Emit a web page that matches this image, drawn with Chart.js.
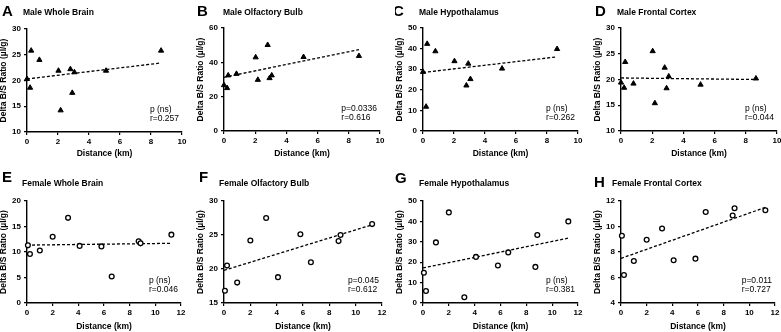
<!DOCTYPE html>
<html lang="en">
<head>
  <meta charset="UTF-8">
  <title>Delta B/S Ratio vs Distance</title>
  <style>
    html, body { margin: 0; padding: 0; background: #fff; }
    body { width: 781px; height: 332px; position: relative; overflow: hidden; }
    canvas { position: absolute; }
  </style>
</head>
<body>
  <canvas id="cA" width="200" height="166"></canvas>
  <canvas id="cB" width="200" height="166"></canvas>
  <canvas id="cC" width="200" height="166"></canvas>
  <canvas id="cD" width="200" height="166"></canvas>
  <canvas id="cE" width="200" height="166"></canvas>
  <canvas id="cF" width="200" height="166"></canvas>
  <canvas id="cG" width="200" height="166"></canvas>
  <canvas id="cH" width="200" height="166"></canvas>

  <script src="https://cdn.jsdelivr.net/npm/chart.js"></script>
  <script>
    // data
    const maleDistance = [0, 0.2, 0.27, 0.8, 2.03, 2.17, 2.8, 2.92, 3.06, 5.1, 8.65];
    const maleWholeBrain = [20.3, 18.6, 25.8, 24.0, 21.9, 14.2, 22.2, 17.6, 21.6, 21.9, 25.8];
    const maleOlfactoryBulb = [26.7, 25.0, 32.4, 33.3, 42.9, 29.8, 50.1, 30.8, 32.4, 43.1, 43.7];
    const maleHypothalamus = [28.7, 11.8, 42.3, 38.7, 33.9, null, 22.1, 32.7, 25.2, 30.3, 39.8];
    const maleFrontalCortex = [19.4, 18.4, 23.4, 19.2, 25.5, 15.4, 22.3, 18.3, 20.6, 19.0, 20.2];

    const femaleDistance = [0.07, 0.23, 1.0, 2.0, 3.2, 4.1, 5.8, 6.6, 8.7, 8.85, 11.25];
    const femaleWholeBrain = [11.3, 9.6, 10.3, 13.0, 16.7, 11.2, 11.1, 5.2, 12.1, 11.7, 13.4];
    const femaleOlfactoryBulb = [16.8, 20.5, 18.0, 24.2, 27.5, 18.8, 25.1, 21.0, 24.1, 25.0, 26.6];
    const femaleHypothalamus = [14.8, 5.9, 29.7, 44.4, 2.8, 22.6, 18.4, 24.8, 17.7, 33.3, 40.0];
    const femaleFrontalCortex = [9.27, 6.2, 7.3, 8.96, 9.84, 7.35, 7.48, 11.14, 10.86, 11.43, 11.27];

    // regression lines (ends)
    const maleFitX = [0, 8.65];
    const fitMaleWholeBrain = [20.3, 23.4];
    const fitMaleOlfactoryBulb = [31.3, 47.4];
    const fitMaleHypothalamus = [28.4, 36.0];
    const fitMaleFrontalCortex = [20.3, 20.0];
    const femaleFitX = [0, 11.25];
    const fitFemaleWholeBrain = [11.35, 11.7];
    const fitFemaleOlfactoryBulb = [19.8, 26.5];
    const fitFemaleHypothalamus = [17.2, 31.8];
    const fitFemaleFrontalCortex = [7.5, 11.5];

    // axis ticks
    const xTicksMale = [0, 2, 4, 6, 8, 10];
    const xTicksFemale = [0, 2, 4, 6, 8, 10, 12];
    const yTicksA = [10, 15, 20, 25, 30];
    const yTicksB = [0, 20, 40, 60];
    const yTicksC = [0, 10, 20, 30, 40, 50];
    const yTicksD = [10, 15, 20, 25, 30];
    const yTicksE = [0, 5, 10, 15, 20];
    const yTicksF = [15, 20, 25, 30];
    const yTicksG = [0, 10, 20, 30, 40, 50];
    const yTicksH = [4, 6, 8, 10, 12];

    const statsA = ['p (ns)', 'r=0.257'];
    const statsB = ['p=0.0336', 'r=0.616'];
    const statsC = ['p (ns)', 'r=0.262'];
    const statsD = ['p (ns)', 'r=0.044'];
    const statsE = ['p (ns)', 'r=0.046'];
    const statsF = ['p=0.045', 'r=0.612'];
    const statsG = ['p (ns)', 'r=0.381'];
    const statsH = ['p=0.011', 'r=0.727'];

    const FONT = '"Liberation Sans", Arial, sans-serif';

    // letter, title and r/p text drawn on top
    const panelText = {
      id: 'panelText',
      afterDraw(chart, args, o) {
        const ctx = chart.ctx;
        const a = chart.chartArea;
        ctx.save();
        ctx.fillStyle = '#000';
        ctx.textAlign = 'left';
        ctx.textBaseline = 'alphabetic';
        ctx.font = 'bold 15px ' + FONT;
        ctx.fillText(o.letter, o.letterX, o.letterY);
        ctx.textBaseline = 'middle';
        ctx.font = 'bold 8.5px ' + FONT;
        ctx.fillText(o.title, o.titleX, o.titleY);
        ctx.font = '8.5px ' + FONT;
        const w = Math.max(...o.stats.map(s => ctx.measureText(s).width));
        o.stats.forEach((s, i) => ctx.fillText(s, a.right - 3 - w, a.bottom - 22 + i * 9));
        ctx.restore();
      }
    };

    function makePanel(p) {
      const canvas = document.getElementById(p.id);
      const left = p.plot[0] - 28;
      canvas.style.left = left + 'px';
      canvas.style.top = p.cellTop + 'px';

      const pts = p.xs.map((x, i) => ({ x: x, y: p.ys[i] })).filter(d => d.y !== null);
      const fit = p.fitX.map((x, i) => ({ x: x, y: p.fitY[i] }));
      const xt = p.xTicks, yt = p.yTicks;

      new Chart(canvas, {
        type: 'scatter',
        data: {
          datasets: [
            {
              data: pts,
              pointStyle: p.female ? 'circle' : 'triangle',
              pointRadius: p.female ? 2.4 : 3,
              pointBackgroundColor: p.female ? '#fff' : '#000',
              pointBorderColor: '#000',
              pointBorderWidth: p.female ? 1.3 : 1,
              clip: false
            },
            {
              data: fit,
              showLine: true,
              borderColor: '#000',
              borderWidth: 1.3,
              borderDash: [3, 2],
              pointRadius: 0,
              clip: false
            }
          ]
        },
        plugins: [panelText],
        options: {
          responsive: false,
          animation: false,
          devicePixelRatio: 1,
          layout: {
            padding: {
              left: 0,
              top: p.plot[1] - p.cellTop,
              right: 200 - 28 - (p.plot[2] - p.plot[0]),
              bottom: 0
            }
          },
          plugins: {
            legend: { display: false },
            tooltip: { enabled: false },
            panelText: {
              letter: p.letter, letterX: p.letterPos[0] - left, letterY: p.letterPos[1] - p.cellTop,
              title: p.title, titleX: p.titlePos[0] - left, titleY: p.titlePos[1] - p.cellTop,
              stats: p.stats
            }
          },
          scales: {
            x: {
              type: 'linear',
              min: xt[0], max: xt[xt.length - 1],
              ticks: { stepSize: xt[1] - xt[0], color: '#000', padding: 2, font: { family: FONT, size: 8, weight: 'bold' } },
              grid: { drawOnChartArea: false, drawTicks: true, tickLength: 3, color: '#000', lineWidth: 1.2 },
              border: { display: true, color: '#000', width: 1.4 },
              title: { display: true, text: 'Distance (km)', color: '#000', padding: { top: 0, bottom: p.xTitlePad }, font: { family: FONT, size: 8.5, weight: 'bold' } },
              afterFit(s) { s.height = 166 - (p.plot[3] - p.cellTop); }
            },
            y: {
              type: 'linear',
              min: yt[0], max: yt[yt.length - 1],
              ticks: { stepSize: yt[1] - yt[0], color: '#000', padding: 3, font: { family: FONT, size: 8, weight: 'bold' } },
              grid: { drawOnChartArea: false, drawTicks: true, tickLength: 3, color: '#000', lineWidth: 1.2 },
              border: { display: true, color: '#000', width: 1.4 },
              title: { display: true, text: 'Delta B/S Ratio (µl/g)', color: '#000', padding: { top: 0, bottom: 0 }, font: { family: FONT, size: 8.5, weight: 'bold' } },
              afterFit(s) { s.width = 28; }
            }
          }
        }
      });
    }

    const panels = [
      { id: 'cA', cellTop: 0, plot: [27, 29, 182, 132], letter: 'A', letterPos: [2, 16], title: 'Male Whole Brain', titlePos: [23, 13],
        xs: maleDistance, ys: maleWholeBrain, fitX: maleFitX, fitY: fitMaleWholeBrain, xTicks: xTicksMale, yTicks: yTicksA, stats: statsA, female: false, xTitlePad: 7 },
      { id: 'cB', cellTop: 0, plot: [224, 28, 380, 131], letter: 'B', letterPos: [197, 16], title: 'Male Olfactory Bulb', titlePos: [223, 13],
        xs: maleDistance, ys: maleOlfactoryBulb, fitX: maleFitX, fitY: fitMaleOlfactoryBulb, xTicks: xTicksMale, yTicks: yTicksB, stats: statsB, female: false, xTitlePad: 7 },
      { id: 'cC', cellTop: 0, plot: [423, 28, 578, 131], letter: 'C', letterPos: [393, 16], title: 'Male Hypothalamus', titlePos: [419, 13],
        xs: maleDistance, ys: maleHypothalamus, fitX: maleFitX, fitY: fitMaleHypothalamus, xTicks: xTicksMale, yTicks: yTicksC, stats: statsC, female: false, xTitlePad: 7 },
      { id: 'cD', cellTop: 0, plot: [621, 28, 777, 131], letter: 'D', letterPos: [595, 16], title: 'Male Frontal Cortex', titlePos: [617, 13],
        xs: maleDistance, ys: maleFrontalCortex, fitX: maleFitX, fitY: fitMaleFrontalCortex, xTicks: xTicksMale, yTicks: yTicksD, stats: statsD, female: false, xTitlePad: 7 },
      { id: 'cE', cellTop: 166, plot: [27, 201, 181, 303], letter: 'E', letterPos: [2, 182], title: 'Female Whole Brain', titlePos: [22, 184],
        xs: femaleDistance, ys: femaleWholeBrain, fitX: femaleFitX, fitY: fitFemaleWholeBrain, xTicks: xTicksFemale, yTicks: yTicksE, stats: statsE, female: true, xTitlePad: 0 },
      { id: 'cF', cellTop: 166, plot: [224, 201, 382, 303], letter: 'F', letterPos: [199, 182], title: 'Female Olfactory Bulb', titlePos: [219, 184],
        xs: femaleDistance, ys: femaleOlfactoryBulb, fitX: femaleFitX, fitY: fitFemaleOlfactoryBulb, xTicks: xTicksFemale, yTicks: yTicksF, stats: statsF, female: true, xTitlePad: 0 },
      { id: 'cG', cellTop: 166, plot: [423, 201, 578, 303], letter: 'G', letterPos: [395, 183], title: 'Female Hypothalamus', titlePos: [419, 184],
        xs: femaleDistance, ys: femaleHypothalamus, fitX: femaleFitX, fitY: fitFemaleHypothalamus, xTicks: xTicksFemale, yTicks: yTicksG, stats: statsG, female: true, xTitlePad: 0 },
      { id: 'cH', cellTop: 166, plot: [621, 201, 775, 303], letter: 'H', letterPos: [594, 187], title: 'Female Frontal Cortex', titlePos: [612, 184],
        xs: femaleDistance, ys: femaleFrontalCortex, fitX: femaleFitX, fitY: fitFemaleFrontalCortex, xTicks: xTicksFemale, yTicks: yTicksH, stats: statsH, female: true, xTitlePad: 0 }
    ];

    panels.forEach(makePanel);
  </script>
</body>
</html>
